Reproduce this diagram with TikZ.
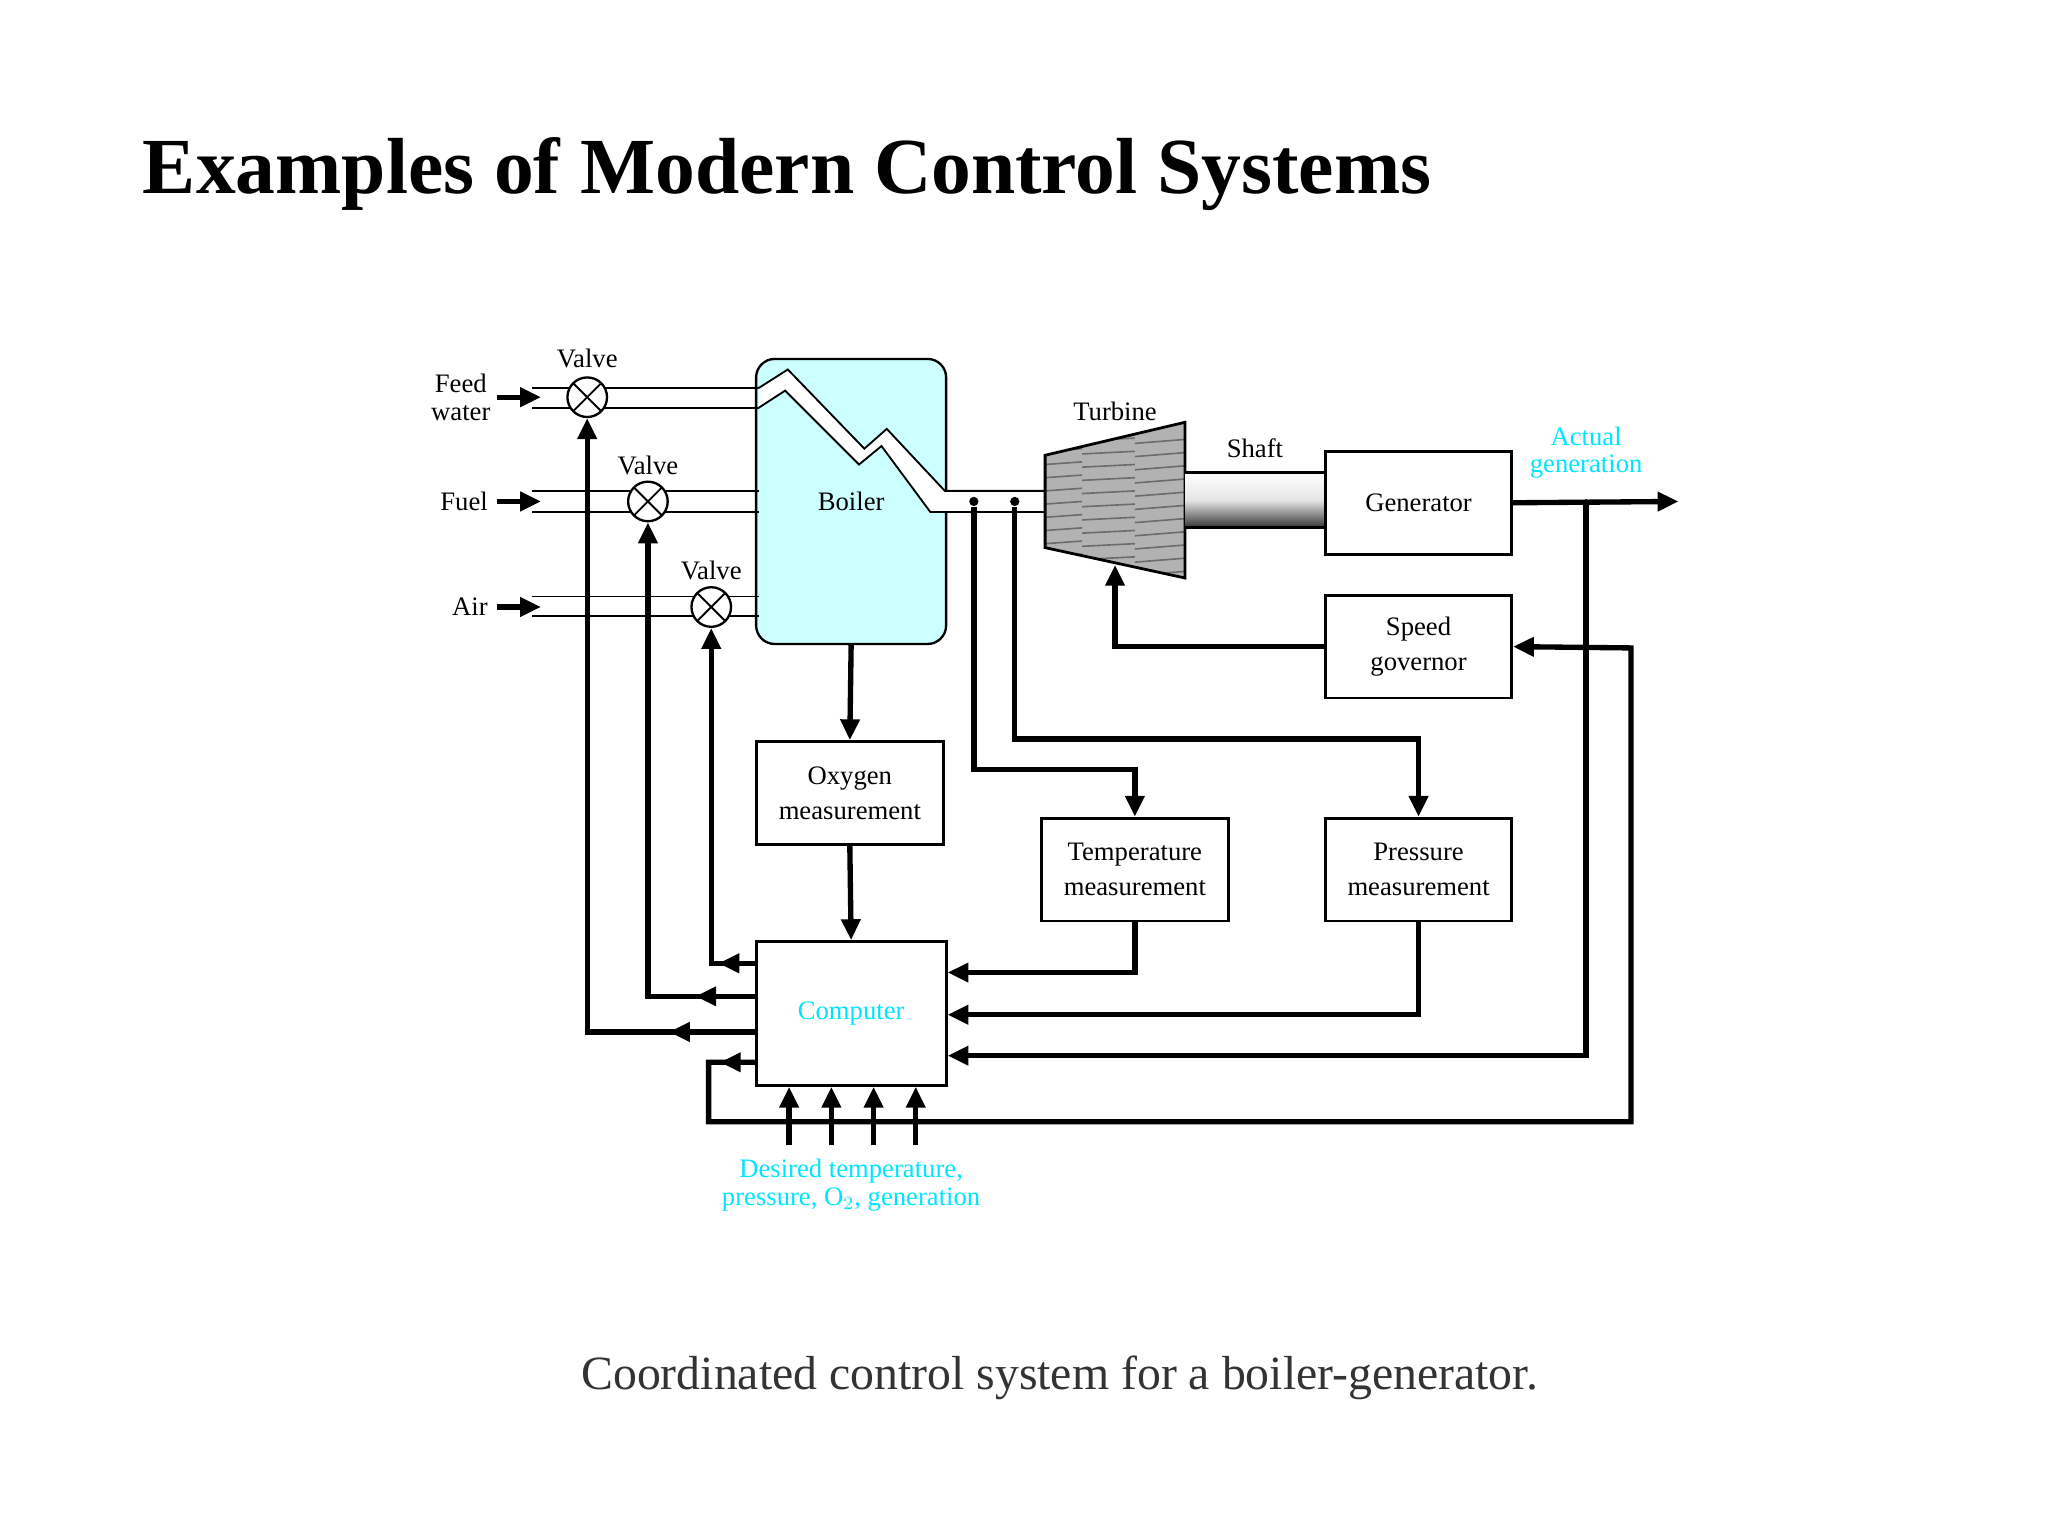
\documentclass[tikz,border=0pt]{standalone}
\usepackage{fontspec}
\setmainfont{Liberation Serif}
\usetikzlibrary{arrows.meta,decorations.markings}
\definecolor{boilerfill}{HTML}{CCFFFF}
\definecolor{cyantext}{HTML}{00E5FF}
\begin{document}
\begin{tikzpicture}[x=0.02cm,y=-0.02cm,
  lbl/.style={inner sep=0pt,align=center,font=\fontsize{11.5}{15}\selectfont},
  box/.style={draw,line width=1.2pt,inner sep=0pt,align=center,font=\fontsize{11.5}{15}\selectfont},
  pipe/.style={line width=0.8pt},
  sig/.style={line width=2.3pt,-{Triangle[length=9pt,width=8pt]}},
  mid/.style={postaction={decorate},decoration={markings,mark=at position #1 with {\arrow{Triangle[length=9pt,width=8pt]}}}},
  valve/.style={draw,circle,fill=white,line width=1pt,minimum size=30*0.02cm,inner sep=0pt,
    path picture={\draw[line width=0.8pt] (path picture bounding box.north west)--(path picture bounding box.south east)
      (path picture bounding box.north east)--(path picture bounding box.south west);}},
  dot/.style={circle,fill,inner sep=0pt,minimum size=4pt}]
\useasboundingbox (0,0) rectangle (1552,1164);

% title and caption
\node[anchor=base west,inner sep=0pt,font=\fontsize{34.3}{38}\selectfont\bfseries] (title) at (108,147) {Examples of Modern Control Systems};
\node[anchor=base,inner sep=0pt,font=\fontsize{20.6}{24}\selectfont,text=black!80] (caption) at (803,1053) {Coordinated control system for a boiler-generator.};

% boiler
\node[draw,line width=1pt,fill=boilerfill,rounded corners=8pt,minimum width=144*0.02cm,minimum height=216*0.02cm] (boiler) at (645,380) {};
\node[lbl] (boilertxt) at (645,380) {Boiler};

% input pipes
\draw[pipe] (403,294) -- (575,294) (403,309) -- (575,309);
\draw[pipe] (403,372) -- (575,372) (403,388) -- (575,388);
\draw[pipe] (403,452) -- (575,452) (403,467) -- (575,467);

% steam tube through the boiler
\fill[white] (575,294) -- (597,280) -- (655,340) -- (672,325) -- (716,372) -- (792,372)
  -- (792,388) -- (705,388) -- (668,338) -- (651,352) -- (595,296) -- (575,309) -- cycle;
\draw[pipe] (575,294) -- (597,280) -- (655,340) -- (672,325) -- (716,372) -- (792,372);
\draw[pipe] (575,309) -- (595,296) -- (651,352) -- (668,338) -- (705,388) -- (792,388);

% valves
\node[valve] (v1) at (445,301) {};
\node[valve] (v2) at (491,380) {};
\node[valve] (v3) at (539,460) {};
\node[lbl] (v1t) at (445,272) {Valve};
\node[lbl] (v2t) at (491,353) {Valve};
\node[lbl] (v3t) at (539,432) {Valve};

% inputs
\node[lbl,anchor=east] (feed) at (372,301) {Feed\\[-3pt]water};
\node[lbl,anchor=east] (fuel) at (370,380) {Fuel};
\node[lbl,anchor=east] (air) at (370,460) {Air};
\coordinate (fe) at (410,301);
\coordinate (fu) at (410,380);
\coordinate (ai) at (410,460);
\draw[sig] ([xshift=5*0.02cm]feed.east) -- (fe);
\draw[sig] ([xshift=7*0.02cm]fuel.east) -- (fu);
\draw[sig] ([xshift=7*0.02cm]air.east) -- (ai);

% turbine
\begin{scope}
  \clip (792,345) -- (898,320) -- (898,438) -- (792,415) -- cycle;
  \fill[gray!60] (780,310) rectangle (910,450);
  \foreach \y in {330,340,...,440} {
    \draw[gray!85!black,line width=0.7pt] (792,\y+2) -- (820,\y) (820,\y+4) -- (860,\y+2) (860,\y+6) -- (898,\y+3);
  }
\end{scope}
\draw[line width=1.2pt] (792,345) -- (898,320) -- (898,438) -- (792,415) -- cycle;
\coordinate (turbbot) at (845,428);
\node[lbl] (turbt) at (845,312) {Turbine};

% shaft
\shade[top color=white,bottom color=black!80,middle color=gray!20] (898,358) rectangle (1005,400);
\draw[line width=1.2pt] (898,358) -- (1005,358) (898,400) -- (1005,400);
\node[lbl] (shaftt) at (951,340) {Shaft};

% blocks
\node[box,minimum width=141*0.02cm,minimum height=78*0.02cm] (gen) at (1075,381) {Generator};
\node[box,minimum width=141*0.02cm,minimum height=78*0.02cm] (gov) at (1075,490) {Speed\\governor};
\node[box,minimum width=142*0.02cm,minimum height=78*0.02cm] (oxy) at (644,601) {Oxygen\\measurement};
\node[box,minimum width=142*0.02cm,minimum height=78*0.02cm] (temp) at (860,659) {Temperature\\measurement};
\node[box,minimum width=141*0.02cm,minimum height=78*0.02cm] (pres) at (1075,659) {Pressure\\measurement};
\node[box,minimum width=144*0.02cm,minimum height=109*0.02cm,text=cyantext] (comp) at (645,768) {Computer};

% labels in cyan
\node[lbl,text=cyantext] (actual) at (1202,343) {Actual\\[-3pt]generation};
\node[lbl,text=cyantext] (desired) at (645,898) {Desired temperature,\\[-3pt]pressure, O$_2$, generation};

% output
\coordinate (out) at (1272,380);
\coordinate (tap) at (1202,380);
\draw[sig] (gen.east) -- (out);
\node[dot,minimum size=2pt] (tapdot) at (tap) {};

% steam taps
\node[dot] (d1) at (738,380) {};
\node[dot] (d2) at (769,380) {};
\draw[sig] (d1) |- (860,583) -- (temp.north);
\draw[sig] (d2) |- (1075,560) -- (pres.north);

% measurement signals
\draw[sig] (boiler.south) -- (oxy.north);
\draw[sig] (oxy.south) -- (comp.north);
\draw[sig] (temp.south) |- (comp.east |- 0,737);
\draw[sig] (pres.south) |- (comp.east |- 0,769);
\draw[sig] (tapdot) |- (comp.east |- 0,800);

% governor
\draw[sig] (gov.west) -| (turbbot);
\coordinate (c4) at (573,805);
\draw[sig,mid=0.55cm] (c4) -| (537,850) -| (1236,491) -- (gov.east);

% computer to valves
\draw[sig,mid=0.55cm] (comp.west |- 0,730) -| (v3.south);
\draw[sig,mid=0.9cm] (comp.west |- 0,755) -| (v2.south);
\draw[sig,mid=1.3cm] (comp.west |- 0,782) -| (v1.south);

% set points
\foreach \x [count=\i] in {598,630,662,694} {
  \coordinate (s\i) at (\x,868);
  \draw[sig] (s\i) -- (comp.south -| \x,0);
}
\end{tikzpicture}
\end{document}
